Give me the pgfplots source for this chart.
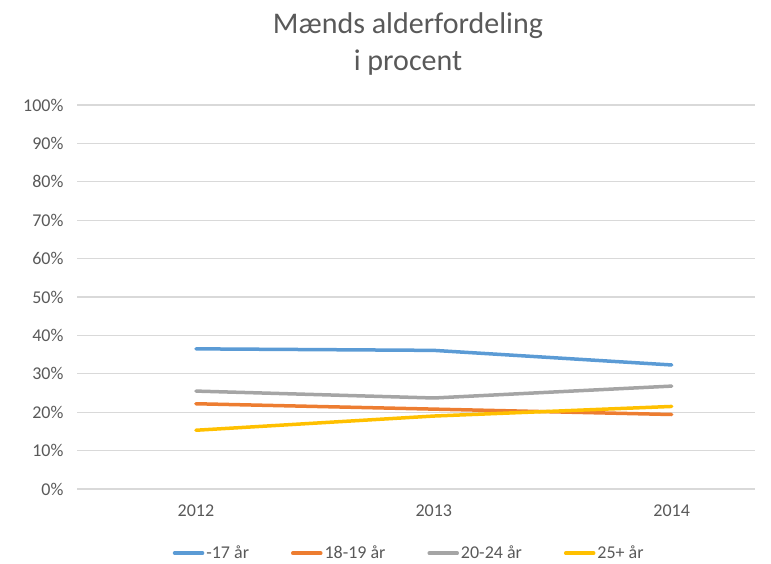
\documentclass[border=0pt]{standalone}
\usepackage{fontspec}
\setmainfont{Carlito}
\usepackage{pgfplots}
\pgfplotsset{compat=1.18}
\definecolor{sblue}{HTML}{5B9BD5}
\definecolor{sorange}{HTML}{ED7D31}
\definecolor{sgray}{HTML}{A5A5A5}
\definecolor{syellow}{HTML}{FFC000}
\definecolor{gridc}{HTML}{D9D9D9}
\definecolor{txt}{HTML}{595959}
\begin{document}
\begin{tikzpicture}[x=1pt,y=1pt]
\path[use as bounding box] (0,0) rectangle (771,563);
\node[font=\fontsize{30}{37}\selectfont, text=txt, align=center] at (408,519) {Mænds alderfordeling\\i procent};
\begin{axis}[
  at={(77pt,74pt)}, anchor=south west,
  scale only axis, width=678pt, height=384pt,
  xmin=-0.5, xmax=2.35, ymin=0, ymax=100,
  xtick={0,1,2}, xticklabels={2012,2013,2014},
  ytick={0,10,...,100},
  yticklabel={\pgfmathprintnumber{\tick}\%},
  /pgf/number format/assume math mode=true,
  ymajorgrids, grid style={gridc, line width=1.2pt},
  axis line style={draw=none},
  axis x line*=bottom,
  major tick length=0pt,
  tick label style={font=\fontsize{18}{21}\selectfont, text=txt},
  xticklabel style={yshift=-12pt},
  yticklabel style={xshift=-10pt},
  legend columns=4,
  legend style={draw=none, fill=none, at={(0.49,-0.167)}, anchor=center, font=\fontsize{18}{21}\selectfont, text=txt,
    /tikz/every even column/.append style={column sep=40pt}},
  legend image code/.code={\draw[#1, line width=3.5pt] (0pt,0pt) -- (28pt,0pt);},
  every axis plot/.append style={line width=3.5pt, line cap=round, line join=round},
  clip=false,
]
\draw[gridc, line width=1.2pt] (axis cs:-0.5,0) -- (axis cs:2.35,0);
\addplot[sblue] coordinates {(0,36.5) (1,36.1) (2,32.3)};
\addlegendentry{-17 år}
\addplot[sorange] coordinates {(0,22.2) (1,20.8) (2,19.4)};
\addlegendentry{18-19 år}
\addplot[sgray] coordinates {(0,25.5) (1,23.7) (2,26.8)};
\addlegendentry{20-24 år}
\addplot[syellow] coordinates {(0,15.3) (1,19.0) (2,21.5)};
\addlegendentry{25+ år}
\end{axis}
\end{tikzpicture}
\end{document}
